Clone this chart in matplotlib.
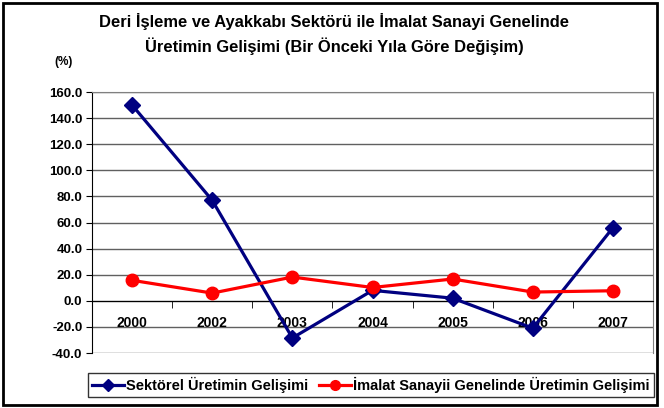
import matplotlib.pyplot as plt
from matplotlib.patches import Rectangle
from matplotlib.lines import Line2D

plt.rcParams['font.family'] = ['Liberation Sans', 'DejaVu Sans']
plt.rcParams['font.weight'] = 'bold'

years = ['2000', '2002', '2003', '2004', '2005', '2006', '2007']
sektorel = [150.0, 77.0, -28.5, 8.0, 2.0, -21.0, 56.0]
imalat = [15.7, 5.9, 18.2, 10.2, 16.7, 6.7, 7.7]
yticks = [-40, -20, 0, 20, 40, 60, 80, 100, 120, 140, 160]

title = ('Deri İşleme ve Ayakkabı Sektörü ile İmalat Sanayi Genelinde\n'
         'Üretimin Gelişimi (Bir Önceki Yıla Göre Değişim)')
label1 = 'Sektörel Üretimin Gelişimi'
label2 = 'İmalat Sanayii Genelinde Üretimin Gelişimi'

navy = '#000080'
red = '#ff0000'

fig = plt.figure(figsize=(6.64, 4.08), dpi=100)
W, H = 664, 408

# outer frame of the chart
fig.patches.append(Rectangle((3 / W, 3 / H), 654 / W, 402 / H, transform=fig.transFigure,
                             fill=False, edgecolor='black', linewidth=2))

ax = fig.add_axes([92 / W, 1 - 353 / H, 561 / W, 261 / H])
x = list(range(len(years)))

for t in yticks:
    ax.axhline(t, color='#606060', linewidth=1, zorder=1)

ax.plot(x, sektorel, color=navy, linewidth=2.3, marker='D', markersize=8.5,
        zorder=3, clip_on=False)
ax.plot(x, imalat, color=red, linewidth=2.3, marker='o', markersize=9,
        zorder=4, clip_on=False)

ax.set_xlim(-0.5, 6.5)
ax.set_ylim(-40, 160)
ax.set_yticks(yticks)
ax.set_yticklabels(['%.1f' % t for t in yticks], fontsize=9.5, fontweight='bold')
ax.set_xticks(x)
ax.set_xticklabels(years, fontsize=9, fontweight='bold')
ax.set_xticks([i + 0.5 for i in x[:-1]], minor=True)

ax.spines['bottom'].set_position(('data', 0))
ax.spines['bottom'].set_color('black')
ax.spines['left'].set_color('black')
ax.spines['top'].set_color('#808080')
ax.spines['right'].set_color('#808080')
ax.tick_params(axis='x', which='major', length=0, pad=11)
ax.tick_params(axis='x', which='minor', length=5, direction='out', color='black')
ax.tick_params(axis='y', length=4, direction='out', pad=3, color='black')

fig.text(334 / W, 1 - 34 / H, title, ha='center', va='center', fontsize=11.9,
         fontweight='bold', linespacing=1.45)
fig.text(64 / W, 1 - 62 / H, '(%)', ha='center', va='center', fontsize=8.5, fontweight='bold')

handles = [Line2D([], [], color=navy, linewidth=2.3, marker='D', markersize=6),
           Line2D([], [], color=red, linewidth=2.3, marker='o', markersize=7)]
leg = fig.legend(handles, [label1, label2], loc='lower left', ncol=2,
                 bbox_to_anchor=(88 / W, 1 - 397 / H), frameon=True, fancybox=False,
                 prop={'size': 10.5, 'weight': 'bold'}, handlelength=2.2,
                 handletextpad=0.15, columnspacing=0.7, borderpad=0.28,
                 borderaxespad=0)
leg.get_frame().set_edgecolor('black')
leg.get_frame().set_linewidth(1)

fig.savefig('out.png', dpi=100)
